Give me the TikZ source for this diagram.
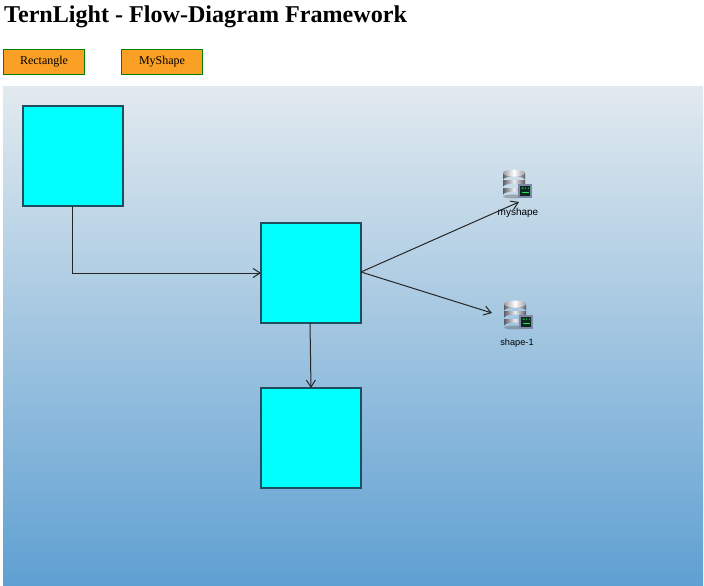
\documentclass[tikz,border=0pt]{standalone}
\usepackage{fontspec}
\setmainfont{Liberation Serif}
\newfontfamily\labelfont{Liberation Sans}
\usetikzlibrary{arrows.meta}
\definecolor{bgtop}{HTML}{E2EAEF}
\definecolor{bgmid}{HTML}{A6C8E2}
\definecolor{bgbot}{HTML}{5FA0D2}
\definecolor{btnfill}{HTML}{FAA024}
\definecolor{btnline}{HTML}{008000}
\definecolor{boxline}{HTML}{1F4F5F}
\definecolor{boxfill}{HTML}{00FFFF}
\definecolor{diskdark}{HTML}{5A5C66}
\definecolor{disklight}{HTML}{EDEDF2}
\definecolor{scrn}{HTML}{0A2A1E}
\definecolor{frame}{HTML}{7F86A6}
\definecolor{scrnmark}{HTML}{22E060}
\tikzset{
  x=1pt,y=-1pt,
  boxnode/.style={draw=boxline,fill=boxfill,line width=1.2pt,minimum size=100pt,inner sep=0pt,outer sep=0pt,anchor=north west},
  btn/.style={draw=btnline,fill=btnfill,line width=0.9pt,minimum width=81pt,minimum height=25pt,inner sep=0pt,text height=8.5pt,text depth=2.5pt,font=\fontsize{12}{14}\selectfont,text=black},
  link/.style={draw=black!85,line width=1pt,-{Straight Barb[length=7pt,width=9pt,line width=1pt]}},
  iconlabel/.style={font=\labelfont\fontsize{10}{12}\selectfont,text=black,inner sep=0pt},
  disk/.style={left color=diskdark,right color=diskdark,middle color=disklight,draw=none},
  icon/.pic={
    \fill[black!60,opacity=.45] (-5,11.5) ellipse (10 and 2);
    \foreach \yy in {3,-5,-12}{
      \path[disk] (-15,\yy) -- (-15,\yy+7) arc[start angle=180,end angle=360,x radius=11,y radius=3.5] -- (7,\yy) -- cycle;
    }
    \path[left color=diskdark!60,right color=diskdark!60,middle color=white] (-4,-12) ellipse (11 and 3.5);
    \fill[frame] (0,-1) rectangle (14,13);
    \fill[scrn] (2,1) rectangle (12,11);
    \fill[scrnmark] (3.5,2.5) rectangle (5.5,3.5) (7,2.5) rectangle (8,3.5) (10,2.5) rectangle (11,3.5);
    \fill[scrnmark] (3.5,7) rectangle (11,8);
  }
}
\begin{document}
\begin{tikzpicture}
\useasboundingbox (0,0) rectangle (704,586);
\fill[white] (0,0) rectangle (704,586);
\shade[top color=bgtop,middle color=bgmid,bottom color=bgbot] (3,86) rectangle (703,586);
\node[anchor=base west,inner sep=0pt,font=\bfseries\fontsize{24.1}{28}\selectfont] (title) at (4,23) {TernLight - Flow-Diagram Framework};
\node[btn] (rectbtn) at (44,62) {Rectangle};
\node[btn] (shapebtn) at (162,62) {MyShape};
\node[boxnode] (a) at (22.9,105.9) {};
\node[boxnode] (b) at (260.9,222.9) {};
\node[boxnode] (c) at (260.9,387.9) {};
\pic at (518,185) {icon};
\pic at (519,316) {icon};
\node[iconlabel] (l1) at (518,212.5) {myshape};
\node[iconlabel,font=\labelfont\fontsize{9.2}{12}\selectfont] (l2) at (517,343.5) {shape-1};
\coordinate (e1) at (519,202);
\coordinate (e2) at (492,313);
\coordinate (bout) at (361,272);
\coordinate (ain) at (261,273);
\coordinate (bbot) at (310,323);
\coordinate (ctop) at (311,388);
\draw[link] (a.south) |- (ain);
\draw[link] (bout) -- (e1);
\draw[link] (bout) -- (e2);
\draw[link] (bbot) -- (ctop);
\end{tikzpicture}
\end{document}
